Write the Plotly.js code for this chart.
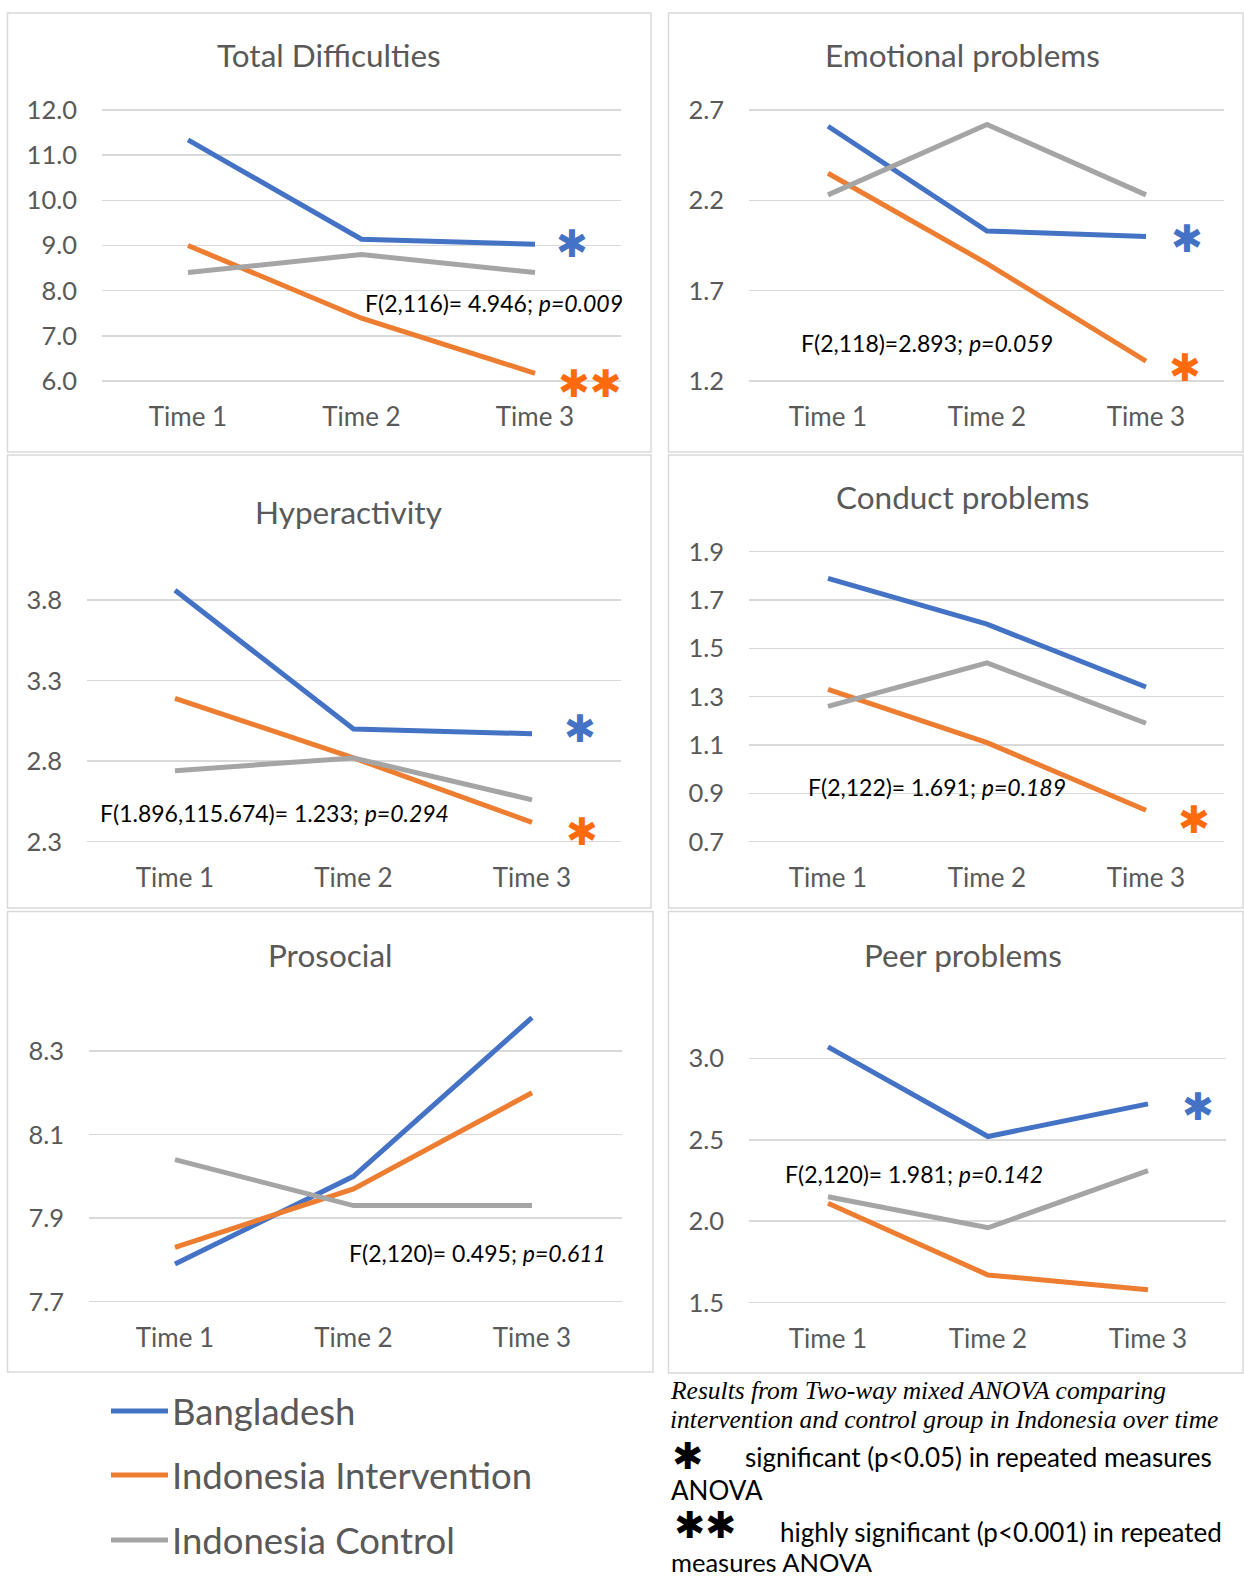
<!DOCTYPE html>
<html><head><meta charset="utf-8">
<script src="https://cdn.plot.ly/plotly-3.0.1.min.js"></script>
<style>html,body{margin:0;padding:0;background:#fff;} #chart{width:1244px;height:1577px;}</style>
</head><body><div id="chart"></div>
<script>
// ---------------- DATA ----------------
const categories = ['Time 1', 'Time 2', 'Time 3'];
const seriesNames = ['Bangladesh', 'Indonesia Intervention', 'Indonesia Control'];
const panelTitles = ['Total Difficulties', 'Emotional problems', 'Hyperactivity', 'Conduct problems', 'Prosocial', 'Peer problems'];

const totalBangladesh = [11.34, 9.14, 9.03];
const totalIntervention = [9.00, 7.39, 6.17];
const totalControl = [8.40, 8.80, 8.40];

const emotionalBangladesh = [2.61, 2.03, 2.00];
const emotionalIntervention = [2.35, 1.85, 1.31];
const emotionalControl = [2.23, 2.62, 2.23];

const hyperBangladesh = [3.86, 3.00, 2.97];
const hyperIntervention = [3.19, 2.82, 2.42];
const hyperControl = [2.74, 2.82, 2.56];

const conductBangladesh = [1.79, 1.60, 1.34];
const conductIntervention = [1.33, 1.11, 0.83];
const conductControl = [1.26, 1.44, 1.19];

const prosocialBangladesh = [7.79, 8.00, 8.38];
const prosocialIntervention = [7.83, 7.97, 8.20];
const prosocialControl = [8.04, 7.93, 7.93];

const peerBangladesh = [3.07, 2.52, 2.72];
const peerIntervention = [2.11, 1.67, 1.58];
const peerControl = [2.15, 1.96, 2.31];

const totalTicks = [6, 7, 8, 9, 10, 11, 12];
const emotionalTicks = [1.2, 1.7, 2.2, 2.7];
const hyperTicks = [2.3, 2.8, 3.3, 3.8];
const conductTicks = [0.7, 0.9, 1.1, 1.3, 1.5, 1.7, 1.9];
const prosocialTicks = [7.7, 7.9, 8.1, 8.3];
const peerTicks = [1.5, 2.0, 2.5, 3.0];

const anovaTexts = [
  'F(2,116)= 4.946; <i>p=0.009</i>',
  'F(2,118)=2.893; <i>p=0.059</i>',
  'F(1.896,115.674)= 1.233; <i>p=0.294</i>',
  'F(2,122)= 1.691; <i>p=0.189</i>',
  'F(2,120)= 0.495; <i>p=0.611</i>',
  'F(2,120)= 1.981; <i>p=0.142</i>'
];
// significance marks per panel: [Bangladesh, Indonesia Intervention]
const bangladeshMarks = ['✱', '✱', '✱', '', '', '✱'];
const interventionMarks = ['✱✱', '✱', '✱', '✱', '', ''];

const noteLines = ['Results from Two-way mixed ANOVA comparing', 'intervention and control group in Indonesia over time'];
const noteSig = 'significant (p<0.05) in repeated measures';
const noteSig2 = 'ANOVA';
const noteHigh = 'highly significant (p<0.001) in repeated';
const noteHigh2 = 'measures ANOVA';

// ---------------- STYLE / LAYOUT ----------------
const W = 1244, H = 1577;
const colors = ['#4472C4', '#ED7D31', '#A5A5A5'];
const markColors = ['#4472C4', '#FF6A0D'];
const FONT = 'Lato, "Open Sans", sans-serif';
const GREY_TXT = '#595959';

const panelData = [
  [totalBangladesh, totalIntervention, totalControl],
  [emotionalBangladesh, emotionalIntervention, emotionalControl],
  [hyperBangladesh, hyperIntervention, hyperControl],
  [conductBangladesh, conductIntervention, conductControl],
  [prosocialBangladesh, prosocialIntervention, prosocialControl],
  [peerBangladesh, peerIntervention, peerControl]
];
const panelTicks = [totalTicks, emotionalTicks, hyperTicks, conductTicks, prosocialTicks, peerTicks];

// geometry in pixels
const geom = [
  {box:[7.5,13,651,452], grid:[102,621], cats:[188,535], yPix:[381,110], title:[329,55], stat:[494,303], marks:[[572,244],[590,384]]},
  {box:[668.5,13,1243,452], grid:[749,1224], cats:[828,1146], yPix:[381,110], title:[962,55], stat:[927,343], marks:[[1187,239],[1185,368]]},
  {box:[7.5,455,651,908], grid:[87,621], cats:[175,532], yPix:[841.7,600], title:[348,512], stat:[274,813], marks:[[580,729],[582,832]]},
  {box:[668.5,455,1243,908], grid:[749,1224], cats:[828,1146], yPix:[841.7,551.7], title:[962,497], stat:[937,787], marks:[[0,0],[1194,820]]},
  {box:[7.5,911.5,653,1372], grid:[89,622], cats:[175,532], yPix:[1301.7,1051], title:[330,955], stat:[477,1253], marks:[[0,0],[0,0]]},
  {box:[668.5,911.5,1243,1373], grid:[749,1226], cats:[828,1148], yPix:[1302.7,1058.3], title:[963,955], stat:[914,1174], marks:[[1198,1107],[0,0]]}
];

const px = x => x / W;
const py = y => 1 - y / H;

const traces = [];
const layout = {
  width: W, height: H,
  margin: {l:0, r:0, t:0, b:0},
  paper_bgcolor: '#ffffff',
  plot_bgcolor: 'rgba(0,0,0,0)',
  showlegend: false,
  font: {family: FONT, color: GREY_TXT},
  shapes: [], annotations: []
};

panelData.forEach((series, i) => {
  const g = geom[i];
  const ticks = panelTicks[i];
  const n = i === 0 ? '' : String(i + 1);
  const unit = (g.cats[1] - g.cats[0]) / 2;
  const xr = [(g.grid[0] - g.cats[0]) / unit, (g.grid[1] - g.cats[0]) / unit];
  const v0 = ticks[0], v1 = ticks[ticks.length - 1];
  const ppu = (g.yPix[0] - g.yPix[1]) / (v1 - v0);
  const topPx = g.title[1] + 24;
  const botPx = g.yPix[0] + 4;
  const yr = [v0 - (botPx - g.yPix[0]) / ppu, v0 + (g.yPix[0] - topPx) / ppu];

  layout['xaxis' + n] = {
    domain: [px(g.grid[0]), px(g.grid[1])],
    anchor: 'y' + n,
    type: 'category',
    range: xr,
    showgrid: false, zeroline: false, showline: false,
    ticks: '',
    ticklabelstandoff: 14,
    tickfont: {family: FONT, size: 26, color: GREY_TXT},
    fixedrange: true
  };
  layout['yaxis' + n] = {
    domain: [py(botPx), py(topPx)],
    anchor: 'x' + n,
    range: yr,
    tickmode: 'array',
    tickvals: ticks,
    tickformat: '.1f',
    showgrid: true, gridcolor: '#D9D9D9', gridwidth: 1.5,
    zeroline: false, showline: false,
    ticks: '',
    ticklabelstandoff: 24,
    tickfont: {family: FONT, size: 25.5, color: GREY_TXT},
    fixedrange: true
  };

  series.forEach((vals, s) => {
    traces.push({
      type: 'scatter', mode: 'lines',
      x: categories, y: vals,
      name: seriesNames[s],
      xaxis: 'x' + n, yaxis: 'y' + n,
      line: {color: colors[s], width: 5},
      hoverinfo: 'skip'
    });
  });

  // panel border
  layout.shapes.push({type:'rect', xref:'paper', yref:'paper', x0:px(g.box[0]), x1:px(g.box[2]), y0:py(g.box[3]), y1:py(g.box[1]), line:{color:'#D9D9D9', width:1.5}, layer:'below'});

  // title
  layout.annotations.push({xref:'paper', yref:'paper', x:px(g.title[0]), y:py(g.title[1]), xanchor:'center', yanchor:'middle', text: panelTitles[i], showarrow:false, font:{family:FONT, size:31.5, color:GREY_TXT}});
  // ANOVA statistic
  layout.annotations.push({xref:'paper', yref:'paper', x:px(g.stat[0]), y:py(g.stat[1]), xanchor:'center', yanchor:'middle', text: anovaTexts[i], showarrow:false, font:{family:FONT, size:23, color:'#000000'}});
  // significance marks
  [bangladeshMarks[i], interventionMarks[i]].forEach((m, k) => {
    if (!m) return;
    layout.annotations.push({xref:'paper', yref:'paper', x:px(g.marks[k][0]), y:py(g.marks[k][1]), xanchor:'center', yanchor:'middle', text: m, showarrow:false, font:{family:'DejaVu Sans', size:38, color:markColors[k]}});
  });
});

// legend (drawn)
const legY = [1411, 1475, 1540];
seriesNames.forEach((name, s) => {
  layout.shapes.push({type:'line', xref:'paper', yref:'paper', x0:px(111), x1:px(168), y0:py(legY[s]), y1:py(legY[s]), line:{color:colors[s], width:5}});
  layout.annotations.push({xref:'paper', yref:'paper', x:px(170), y:py(legY[s]), xanchor:'left', yanchor:'middle', text:name, showarrow:false, font:{family:FONT, size:36.5, color:GREY_TXT}});
});

// notes
const SERIF = '"Liberation Serif", "Times New Roman", serif';
layout.annotations.push({xref:'paper', yref:'paper', x:px(668), y:py(1390), xanchor:'left', yanchor:'middle', text:'<i>' + noteLines[0] + '</i>', showarrow:false, font:{family:SERIF, size:25.5, color:'#000'}});
layout.annotations.push({xref:'paper', yref:'paper', x:px(668), y:py(1419), xanchor:'left', yanchor:'middle', text:'<i>' + noteLines[1] + '</i>', showarrow:false, font:{family:SERIF, size:25.5, color:'#000'}});
layout.annotations.push({xref:'paper', yref:'paper', x:px(687), y:py(1456), xanchor:'center', yanchor:'middle', text:'✱', showarrow:false, font:{family:'DejaVu Sans', size:37, color:'#000'}});
layout.annotations.push({xref:'paper', yref:'paper', x:px(743), y:py(1457), xanchor:'left', yanchor:'middle', text:noteSig, showarrow:false, font:{family:FONT, size:26, color:'#000'}});
layout.annotations.push({xref:'paper', yref:'paper', x:px(669), y:py(1490), xanchor:'left', yanchor:'middle', text:noteSig2, showarrow:false, font:{family:FONT, size:26, color:'#000'}});
layout.annotations.push({xref:'paper', yref:'paper', x:px(705), y:py(1525), xanchor:'center', yanchor:'middle', text:'✱✱', showarrow:false, font:{family:'DejaVu Sans', size:37, color:'#000'}});
layout.annotations.push({xref:'paper', yref:'paper', x:px(778), y:py(1532), xanchor:'left', yanchor:'middle', text:noteHigh, showarrow:false, font:{family:FONT, size:26, color:'#000'}});
layout.annotations.push({xref:'paper', yref:'paper', x:px(669), y:py(1562), xanchor:'left', yanchor:'middle', text:noteHigh2, showarrow:false, font:{family:FONT, size:25.5, color:'#000'}});

Plotly.newPlot('chart', traces, layout, {staticPlot: true, displayModeBar: false});
</script>
</body></html>
